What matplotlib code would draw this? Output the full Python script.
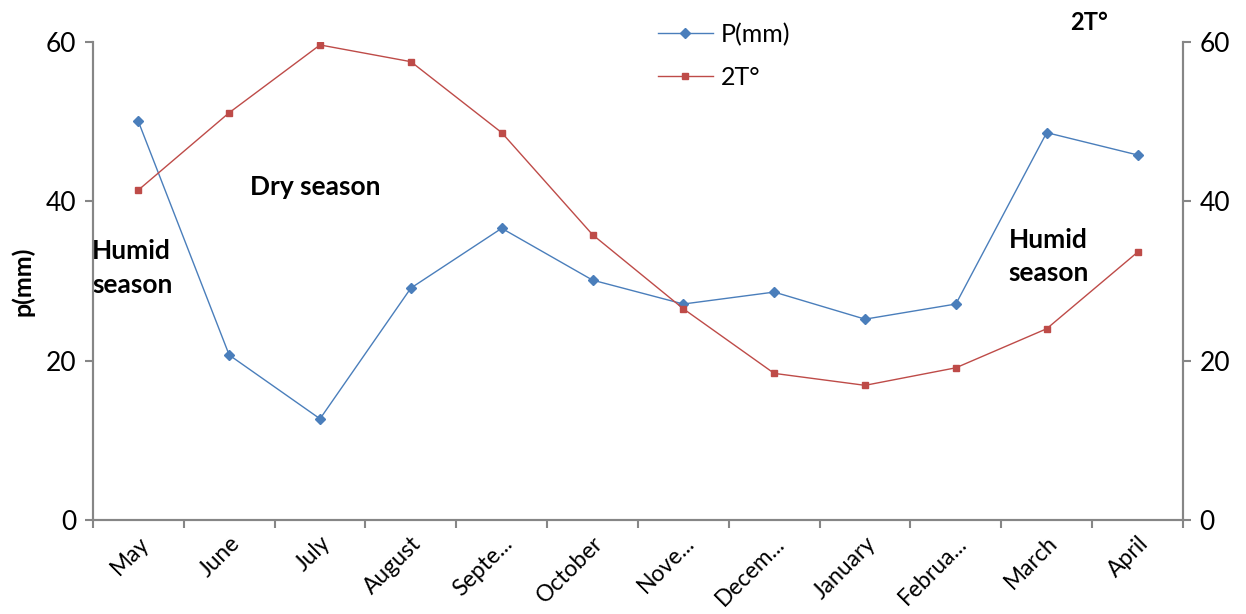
import matplotlib.pyplot as plt
import numpy as np

plt.rcParams['font.family'] = ['Lato', 'DejaVu Sans']

months = ['May', 'June', 'July', 'August', 'Septe...', 'October', 'Nove...',
          'Decem...', 'January', 'Februa...', 'March', 'April']
p_mm = [50.0, 20.7, 12.7, 29.1, 36.6, 30.1, 27.1, 28.6, 25.2, 27.1, 48.6, 45.8]
t2 = [41.4, 51.1, 59.6, 57.5, 48.6, 35.8, 26.5, 18.4, 16.9, 19.1, 24.0, 33.6]

blue = '#4a7ebb'
red = '#be4b48'
grey = '#868686'

fig = plt.figure(figsize=(12.46, 6.14), dpi=100)
ax = fig.add_axes([0.0746, 0.153, 0.8748, 0.779])
ax2 = ax.twinx()

x = np.arange(len(months))
l1, = ax.plot(x, p_mm, color=blue, lw=1, marker='D', ms=5, label='P(mm)')
l2, = ax.plot(x, t2, color=red, lw=1, marker='s', ms=5, label='2T°')

for a in (ax, ax2):
    a.set_ylim(0, 60)
    a.set_yticks([0, 20, 40, 60])
    a.spines['top'].set_visible(False)
    for s in ('left', 'right', 'bottom'):
        a.spines[s].set_color(grey)
        a.spines[s].set_linewidth(1.5)
    a.tick_params(axis='y', colors=grey, length=6, width=1.5, labelsize=19,
                  labelcolor='black', pad=6)

ax.set_xlim(-0.5, len(months) - 0.5)
ax.set_xticks(x)
ax.set_xticklabels(months, rotation=45, ha='right', rotation_mode='anchor', fontsize=16.5)
ax.tick_params(axis='x', which='major', length=0, pad=9)
ax.set_xticks(np.arange(-0.5, len(months)), minor=True)
ax.tick_params(axis='x', which='minor', length=6, width=1.5, color=grey)

ax.set_ylabel('p(mm)', fontsize=18, fontweight='bold', labelpad=8)

# season annotations
ax.text(-0.51, 31.6, 'Humid\nseason', fontsize=19, fontweight='bold',
        va='center', ha='left', linespacing=1.5)
ax.text(1.23, 41.8, 'Dry season', fontsize=19, fontweight='bold', va='center', ha='left')
ax.text(9.58, 33.1, 'Humid\nseason', fontsize=19, fontweight='bold',
        va='center', ha='left', linespacing=1.45)

fig.text(0.874, 0.964, '2T°', fontsize=17, fontweight='bold', ha='center', va='center')

fig.legend(handles=[l1, l2], loc='upper left', bbox_to_anchor=(0.51, 1.0),
           frameon=False, fontsize=18, handlelength=2.2, labelspacing=0.8,
           handletextpad=0.3)

fig.savefig('out.png', dpi=100)
